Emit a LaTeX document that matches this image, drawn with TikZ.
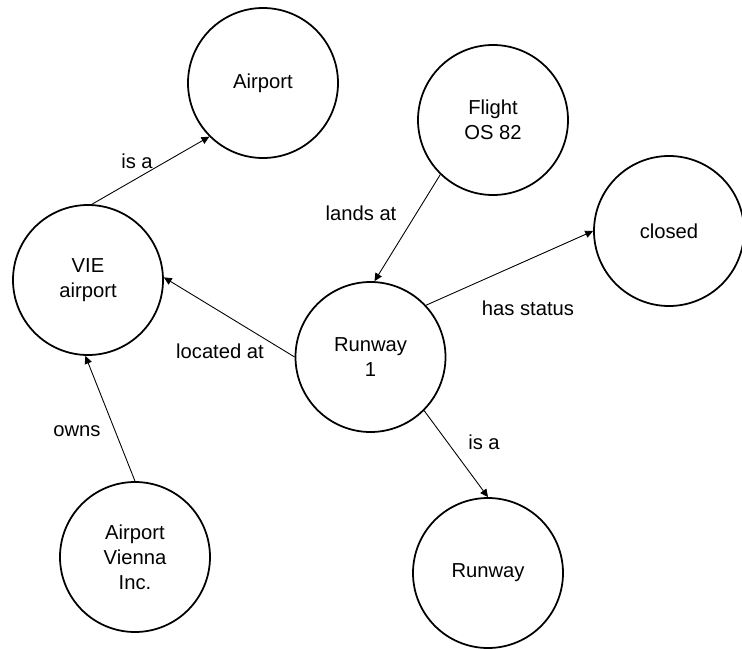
\documentclass[tikz,border=0pt]{standalone}
\usepackage{fontspec}
\setmainfont{Liberation Sans}
\usetikzlibrary{arrows.meta}
\begin{document}
\begin{tikzpicture}[
	thing/.style={draw,circle,line width=1pt,minimum size=3cm,inner sep=0pt,align=center,font=\fontsize{11.5}{14.2}\selectfont},
	rel/.style={font=\fontsize{11.5}{14.2}\selectfont},
	link/.style={line width=0.5pt,-{Triangle[length=4.5pt,width=4.2pt]}}]
				\useasboundingbox (0,0) rectangle (14.84,-12.96);
				\node[thing] (airport) at (5.26,-1.66) {Airport};
				\node[thing] (vie) at (1.76,-5.60) {VIE\\airport};
				\node[thing] (flight) at (9.86,-2.40) {Flight\\OS 82};
				\node[thing] (closed) at (13.38,-4.62) {closed};
				\node[thing] (rwone) at (7.41,-7.14) {Runway\\1};
				\node[thing] (owner) at (2.70,-11.14) {Airport\\Vienna\\Inc.};
				\node[thing] (runway) at (9.76,-11.46) {Runway};
				\draw[link] (vie.87) -- (airport.225);
				\draw[link] (flight.226) -- (rwone.87);
				\draw[link] (rwone.43) -- (closed.180);
				\draw[link] (rwone.180) -- (vie.2);
				\draw[link] (owner.90) -- (vie.268);
				\draw[link] (rwone.-45) -- (runway.90);
				\node[rel] (isa1) at (2.74,-3.22) {is a};
				\node[rel] (landsat) at (7.22,-4.26) {lands at};
				\node[rel] (hasstatus) at (10.56,-6.16) {has status};
				\node[rel] (locatedat) at (4.40,-7.02) {located at};
				\node[rel] (owns) at (1.54,-8.62) {owns};
				\node[rel] (isa2) at (9.68,-8.84) {is a};
			\end{tikzpicture}
\end{document}
